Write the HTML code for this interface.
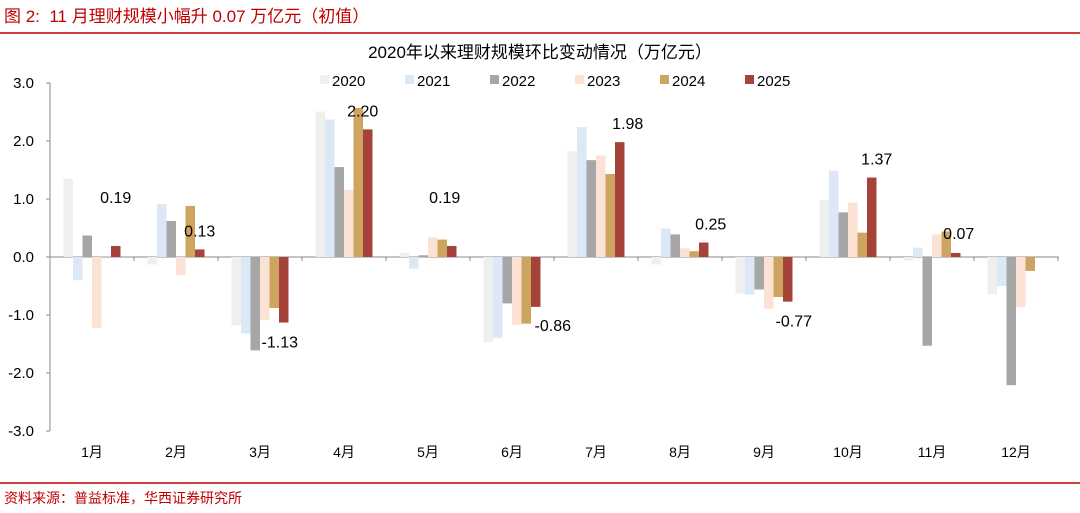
<!DOCTYPE html>
<html><head><meta charset="utf-8"><style>
body{margin:0;background:#fff;}
svg text{font-family:"Liberation Sans","Noto Sans CJK SC",sans-serif;}
</style></head><body>
<svg id="c" width="1080" height="508" viewBox="0 0 1080 508" xmlns="http://www.w3.org/2000/svg">
<text x="4" y="22" font-size="17" fill="#c00000" xml:space="preserve">图 2:  11 月理财规模小幅升 0.07 万亿元（初值）</text>
<line x1="0" y1="33" x2="1080" y2="33" stroke="#c00000" stroke-width="1.5"/>
<text x="540" y="58" font-size="17" text-anchor="middle" fill="#000">2020年以来理财规模环比变动情况（万亿元）</text>
<g id="legend"></g>
<g id="grid"></g>
<g id="bars"></g>
<g id="labels"></g>
<line x1="0" y1="483" x2="1080" y2="483" stroke="#c00000" stroke-width="1.5"/>
<text x="4" y="503" font-size="14" fill="#c00000">资料来源：普益标准，华西证券研究所</text>
</svg>
<script>
const months=["1月","2月","3月","4月","5月","6月","7月","8月","9月","10月","11月","12月"];
const years=["2020","2021","2022","2023","2024","2025"];
const colors=["#efefef","#dce8f5","#a6a6a6","#fbe2d5","#cda460","#a5433a"];
const v2020=[1.35,-0.13,-1.18,2.51,0.07,-1.47,1.82,-0.13,-0.63,0.98,-0.06,-0.64];
const v2021=[-0.40,0.91,-1.32,2.37,-0.20,-1.39,2.24,0.49,-0.65,1.49,0.16,-0.50];
const v2022=[0.37,0.62,-1.61,1.55,0.03,-0.80,1.67,0.39,-0.56,0.77,-1.53,-2.21];
const v2023=[-1.22,-0.31,-1.09,1.16,0.34,-1.17,1.75,0.15,-0.89,0.94,0.39,-0.86];
const v2024=[0.01,0.88,-0.88,2.57,0.30,-1.15,1.43,0.10,-0.69,0.42,0.44,-0.24];
const v2025=[0.19,0.13,-1.13,2.20,0.19,-0.86,1.98,0.25,-0.77,1.37,0.07,null];
const yTicks=[3,2,1,0,-1,-2,-3];
const yTickLabels=["3.0","2.0","1.0","0.0","-1.0","-2.0","-3.0"];
const series=[v2020,v2021,v2022,v2023,v2024,v2025];
const labelDy=[-43,-13,25,-13,-43,24,-13,-13,25,-13,-14,0];
const labelDx=[0,0,-4,-5,-7,17,8,7,6,5,3,0];
const NS="http://www.w3.org/2000/svg";
const X0=50,X1=1058,Y0=257,PU=58;
const bw=(X1-X0)/12, barW=9.5;
const y=v=>Y0-v*PU;
const x=(i,s)=>X0+i*bw+(bw-6*barW)/2+s*barW;
function mk(t,a,p){const e=document.createElementNS(NS,t);for(const k in a)e.setAttribute(k,a[k]);document.getElementById(p).appendChild(e);return e;}
years.forEach((yr,i)=>{
 const lx=320+i*85;
 const r=mk("rect",{x:lx,y:75,width:9,height:9,fill:colors[i]},"legend");
 
 
 const t=mk("text",{x:lx+12,y:86,"font-size":15,fill:"#000"},"legend");t.textContent=yr;
 
 
});
const ya=mk("line",{x1:X0,y1:y(3),x2:X0,y2:y(-3),stroke:"#888"},"grid");


yTicks.forEach((v,i)=>{
 mk("line",{x1:X0-4,x2:X0,y1:y(v),y2:y(v),stroke:"#888"},"grid");
 const t=mk("text",{x:X0-16,y:y(v)+5,"font-size":15,"text-anchor":"end",fill:"#000"},"grid");t.textContent=yTickLabels[i];
 
 
});
months.forEach((m,i)=>{
 const t=mk("text",{x:X0+(i+0.5)*bw,y:457,"font-size":14,"text-anchor":"middle",fill:"#000"},"grid");t.textContent=m;
 
 
 mk("line",{x1:X0+(i+1)*bw,x2:X0+(i+1)*bw,y1:Y0,y2:Y0+4,stroke:"#888"},"grid");
});
series.forEach((arr,s)=>{
 arr.forEach((v,i)=>{
  if(v===null)return;
  const r=mk("rect",{x:x(i,s),y:Math.min(y(v),Y0),width:barW,height:Math.abs(v*PU),fill:colors[s]},"bars");
  
  
 });
});
const xa=mk("line",{x1:X0,y1:Y0,x2:X1+1,y2:Y0,stroke:"#888"},"grid");


v2025.forEach((v,i)=>{
 if(v===null)return;
 const cx=x(i,5)+barW/2+labelDx[i];
 const t=mk("text",{x:cx,y:y(v)+labelDy[i],"font-size":16,"text-anchor":"middle",fill:"#000"},"labels");
 t.textContent=v.toFixed(2);
 
 
});
</script>
</body></html>
